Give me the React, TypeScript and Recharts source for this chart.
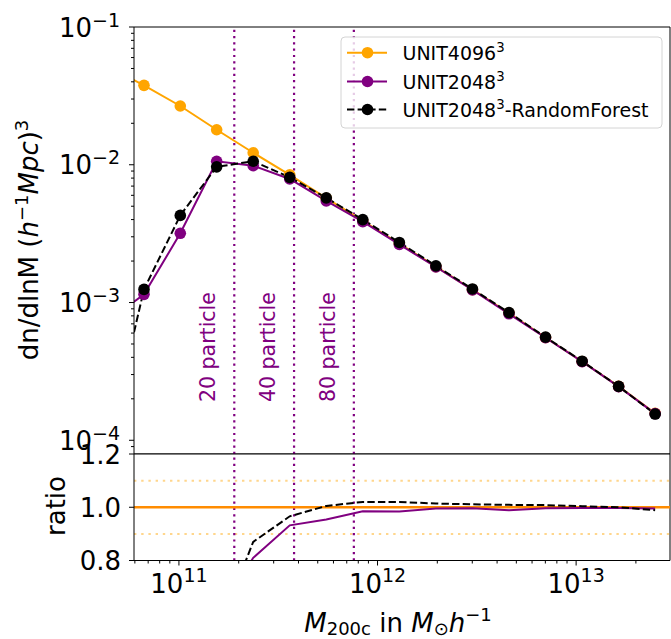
import React from 'react';
import { LineChart, Line, XAxis, YAxis, ReferenceLine } from 'recharts';

// halo mass bin centres (M200c in Msun/h); first bin lies left of the visible range
const massBins = [
  4.37e10, 6.67e10, 1.016e11, 1.549e11, 2.366e11, 3.614e11, 5.52e11, 8.43e11,
  1.288e12, 1.968e12, 3.006e12, 4.592e12, 7.015e12, 1.072e13, 1.637e13, 2.5e13,
];

// dn/dlnM in (Mpc/h)^-3
const unit4096 = [
  0.0522, 0.0377, 0.0267, 0.01795, 0.01222, 0.00845, 0.00572, 0.00392,
  0.00268, 0.00182, 0.00124, 0.000837, 0.000557, 0.000373, 0.000246, 0.000157,
];
const unit2048 = [
  0.000728, 0.001146, 0.00318, 0.0106, 0.00984, 0.00788, 0.00546, 0.00386,
  0.00264, 0.00181, 0.001235, 0.000828, 0.000555, 0.000372, 0.000245, 0.000156,
];
const unit2048RF = [
  0.000091, 0.001245, 0.00429, 0.00966, 0.0106, 0.0081, 0.00575, 0.004,
  0.00273, 0.001845, 0.001254, 0.000845, 0.000561, 0.000375, 0.000246, 0.000155,
];

// ratio to UNIT4096^3
const ratio2048 = [
  0.014, 0.03, 0.119, 0.59, 0.81, 0.932, 0.954, 0.985,
  0.984, 0.995, 0.996, 0.989, 0.996, 0.997, 0.997, 0.995,
];
const ratio2048RF = [
  0.0017, 0.033, 0.161, 0.52, 0.87, 0.966, 1.005, 1.02,
  1.02, 1.014, 1.011, 1.009, 1.008, 1.004, 1.0, 0.989,
];

// 20 / 40 / 80 particle mass limits
const particleCuts = [1.9e11, 3.8e11, 7.6e11];
const particleLabels = ['20 particle', '40 particle', '80 particle'];

const hmfTicks = [
  9e-5,
  1e-4, 2e-4, 3e-4, 4e-4, 5e-4, 6e-4, 7e-4, 8e-4, 9e-4,
  1e-3, 2e-3, 3e-3, 4e-3, 5e-3, 6e-3, 7e-3, 8e-3, 9e-3,
  1e-2, 2e-2, 3e-2, 4e-2, 5e-2, 6e-2, 7e-2, 8e-2, 9e-2,
  1e-1,
];
const massTicks = [
  6e10, 7e10, 8e10, 9e10,
  1e11, 2e11, 3e11, 4e11, 5e11, 6e11, 7e11, 8e11, 9e11,
  1e12, 2e12, 3e12, 4e12, 5e12, 6e12, 7e12, 8e12, 9e12,
  1e13, 2e13,
];
const ratioTicks = [0.8, 1.0, 1.2];
const ratioBand = [0.9, 1.1];

const X_DOMAIN: [number, number] = [5.94e10, 2.97e13];
const HMF_DOMAIN: [number, number] = [7.95e-5, 0.1];
const RATIO_DOMAIN: [number, number] = [0.8, 1.2];

const ORANGE = '#ffa500';
const DARK_ORANGE = '#ff8c00';
const PURPLE = '#800080';
const FONT = '"DejaVu Sans", sans-serif';

const W = 671;
const H = 639;
const PLOT_LEFT = 134;
const HMF_TOP = 27;
const SPLIT = 454;
const RATIO_BOTTOM = 560.5;

const hmfData = massBins.map((m, i) => ({
  m,
  a: unit4096[i],
  b: unit2048[i],
  c: unit2048RF[i],
}));
const ratioData = massBins.map((m, i) => ({ m, b: ratio2048[i], c: ratio2048RF[i] }));

const isDecade = (v: number) => Math.abs(Math.log10(v) - Math.round(Math.log10(v))) < 1e-6;

function HmfTick({ x, y, payload }: any) {
  const v = payload.value;
  const major = isDecade(v);
  const e = Math.round(Math.log10(v));
  return (
    <g>
      <line x1={x} x2={x - (major ? 5 : 3)} y1={y} y2={y} stroke="#000" strokeWidth={1} />
      {major && (
        <text x={x - 14} y={y + 9.5} textAnchor="end" fontSize={26} fontFamily={FONT} fill="#000">
          10
          <tspan dy={-10} fontSize={19}>
            {'\u2212' + Math.abs(e)}
          </tspan>
        </text>
      )}
    </g>
  );
}

function RatioTick({ x, y, payload }: any) {
  return (
    <g>
      <line x1={x} x2={x - 5} y1={y} y2={y} stroke="#000" strokeWidth={1} />
      <text x={x - 13} y={y + 9.5} textAnchor="end" fontSize={26} fontFamily={FONT} fill="#000">
        {Number(payload.value).toFixed(1)}
      </text>
    </g>
  );
}

function MassTick({ x, y, payload }: any) {
  const v = payload.value;
  const major = isDecade(v);
  return (
    <g>
      <line x1={x} x2={x} y1={y} y2={y + (major ? 5 : 3)} stroke="#000" strokeWidth={1} />
      {major && (
        <text x={x} y={y + 32.5} textAnchor="middle" fontSize={26} fontFamily={FONT} fill="#000">
          10
          <tspan dy={-11} fontSize={19}>
            {Math.round(Math.log10(v))}
          </tspan>
        </text>
      )}
    </g>
  );
}

const particleLabel = (text: string) => (props: any) => {
  const vb = props.viewBox;
  const bx = vb.x - 19;
  const by = vb.y + vb.height - 52;
  return (
    <text
      transform={`translate(${bx},${by}) rotate(-90)`}
      fontSize={20.5}
      fontFamily={FONT}
      fill={PURPLE}
    >
      {text}
    </text>
  );
};

const legendItems = [
  { name: 'UNIT4096', sup: '3', tail: '', color: ORANGE, dash: undefined as string | undefined },
  { name: 'UNIT2048', sup: '3', tail: '', color: PURPLE, dash: undefined as string | undefined },
  { name: 'UNIT2048', sup: '3', tail: '-RandomForest', color: '#000', dash: '7.4 3.2' },
];

function Overlay() {
  const rowY = [52.7, 81.5, 109.5];
  return (
    <svg
      width={W}
      height={H}
      style={{ position: 'absolute', left: 0, top: 0, pointerEvents: 'none' }}
      fontFamily={FONT}
    >
      {/* y titles */}
      <text transform="translate(38,240) rotate(-90)" textAnchor="middle" fontSize={26} fill="#000">
        {'dn/dlnM ('}
        <tspan fontStyle="italic">h</tspan>
        <tspan dy={-10} fontSize={18}>{'\u22121'}</tspan>
        <tspan dy={10} fontStyle="italic">Mpc</tspan>
        {')'}
        <tspan dy={-10} fontSize={18}>3</tspan>
      </text>
      <text transform="translate(65,506) rotate(-90)" textAnchor="middle" fontSize={26} fill="#000">
        ratio
      </text>
      {/* x title */}
      <text x={398} y={631.5} textAnchor="middle" fontSize={26} fill="#000">
        <tspan fontStyle="italic">M</tspan>
        <tspan dy={3.5} fontSize={18}>200c</tspan>
        <tspan dy={-3.5}>{' in '}</tspan>
        <tspan fontStyle="italic">M</tspan>
        <tspan dy={3.5} fontSize={18}>{'\u2299'}</tspan>
        <tspan dy={-3.5} fontStyle="italic">h</tspan>
        <tspan dy={-11} fontSize={18}>{'\u22121'}</tspan>
      </text>
      {/* legend */}
      <rect x={341} y={37} width={321} height={91} rx={4} fill="rgba(255,255,255,0.8)" stroke="#d4d4d4" />
      {legendItems.map((it, i) => (
        <g key={i}>
          <line
            x1={347}
            x2={387}
            y1={rowY[i]}
            y2={rowY[i]}
            stroke={it.color}
            strokeWidth={2}
            strokeDasharray={it.dash}
          />
          <circle cx={367.5} cy={rowY[i]} r={5.8} fill={it.color} />
          <text x={402.5} y={rowY[i] + 7} fontSize={19} fill="#000">
            {it.name}
            <tspan dy={-7.5} fontSize={13.3}>{it.sup}</tspan>
            {it.tail ? <tspan dy={7.5}>{it.tail}</tspan> : null}
          </text>
        </g>
      ))}
    </svg>
  );
}

export default function App() {
  return (
    <div style={{ position: 'absolute', left: 0, top: 0, width: W, height: H, background: '#fff' }}>
      <div style={{ position: 'absolute', left: 0, top: 0 }}>
        <LineChart
          width={W}
          height={SPLIT}
          data={hmfData}
          margin={{ top: HMF_TOP, right: 1, bottom: 0, left: 0 }}
        >
          <XAxis
            dataKey="m"
            type="number"
            scale="log"
            domain={X_DOMAIN}
            allowDataOverflow
            hide
          />
          <YAxis
            type="number"
            scale="log"
            domain={HMF_DOMAIN}
            allowDataOverflow
            ticks={hmfTicks}
            interval={0}
            width={PLOT_LEFT}
            tickSize={0}
            tickMargin={0}
            tickLine={false}
            axisLine={{ stroke: '#000', strokeWidth: 1 }}
            tick={<HmfTick />}
          />
          <ReferenceLine y={HMF_DOMAIN[1]} stroke="#000" strokeWidth={1} />
          <ReferenceLine y={HMF_DOMAIN[0]} stroke="#000" strokeWidth={1} />
          <ReferenceLine x={X_DOMAIN[1]} stroke="#000" strokeWidth={1} />
          {particleCuts.map((mc, i) => (
            <ReferenceLine
              key={mc}
              x={mc}
              stroke={PURPLE}
              strokeWidth={2.2}
              strokeDasharray="2.2 4.1"
              label={particleLabel(particleLabels[i])}
            />
          ))}
          <Line
            type="linear"
            dataKey="a"
            stroke={ORANGE}
            strokeWidth={2}
            dot={{ r: 5.8, fill: ORANGE, strokeWidth: 0 }}
            activeDot={false}
            isAnimationActive={false}
          />
          <Line
            type="linear"
            dataKey="b"
            stroke={PURPLE}
            strokeWidth={2}
            dot={{ r: 5.8, fill: PURPLE, strokeWidth: 0 }}
            activeDot={false}
            isAnimationActive={false}
          />
          <Line
            type="linear"
            dataKey="c"
            stroke="#000"
            strokeWidth={2}
            strokeDasharray="7.4 3.2"
            dot={{ r: 5.8, fill: '#000', strokeWidth: 0, strokeDasharray: 'none' }}
            activeDot={false}
            isAnimationActive={false}
          />
        </LineChart>
      </div>
      <div style={{ position: 'absolute', left: 0, top: SPLIT - 30 }}>
        <LineChart
          width={W}
          height={H - SPLIT + 30}
          data={ratioData}
          margin={{ top: 30, right: 1, bottom: 0, left: 0 }}
        >
          <XAxis
            dataKey="m"
            type="number"
            scale="log"
            domain={X_DOMAIN}
            allowDataOverflow
            ticks={massTicks}
            interval={0}
            height={H - RATIO_BOTTOM}
            tickSize={0}
            tickMargin={0}
            tickLine={false}
            axisLine={{ stroke: '#000', strokeWidth: 1 }}
            tick={<MassTick />}
          />
          <YAxis
            type="number"
            domain={RATIO_DOMAIN}
            allowDataOverflow
            ticks={ratioTicks}
            interval={0}
            width={PLOT_LEFT}
            tickSize={0}
            tickMargin={0}
            tickLine={false}
            axisLine={{ stroke: '#000', strokeWidth: 1 }}
            tick={<RatioTick />}
          />
          <ReferenceLine y={RATIO_DOMAIN[1]} stroke="#000" strokeWidth={1} />
          <ReferenceLine x={X_DOMAIN[1]} stroke="#000" strokeWidth={1} />
          {ratioBand.map((r) => (
            <ReferenceLine
              key={r}
              y={r}
              stroke={ORANGE}
              strokeOpacity={0.45}
              strokeWidth={2}
              strokeDasharray="2.4 4.8"
            />
          ))}
          {particleCuts.map((mc) => (
            <ReferenceLine key={mc} x={mc} stroke={PURPLE} strokeWidth={2.2} strokeDasharray="2.2 4.1" />
          ))}
          <ReferenceLine y={1} stroke={DARK_ORANGE} strokeWidth={2.5} />
          <Line
            type="linear"
            dataKey="b"
            stroke={PURPLE}
            strokeWidth={2}
            dot={false}
            activeDot={false}
            isAnimationActive={false}
          />
          <Line
            type="linear"
            dataKey="c"
            stroke="#000"
            strokeWidth={2}
            strokeDasharray="7.4 3.2"
            dot={false}
            activeDot={false}
            isAnimationActive={false}
          />
        </LineChart>
      </div>
      <Overlay />
    </div>
  );
}
